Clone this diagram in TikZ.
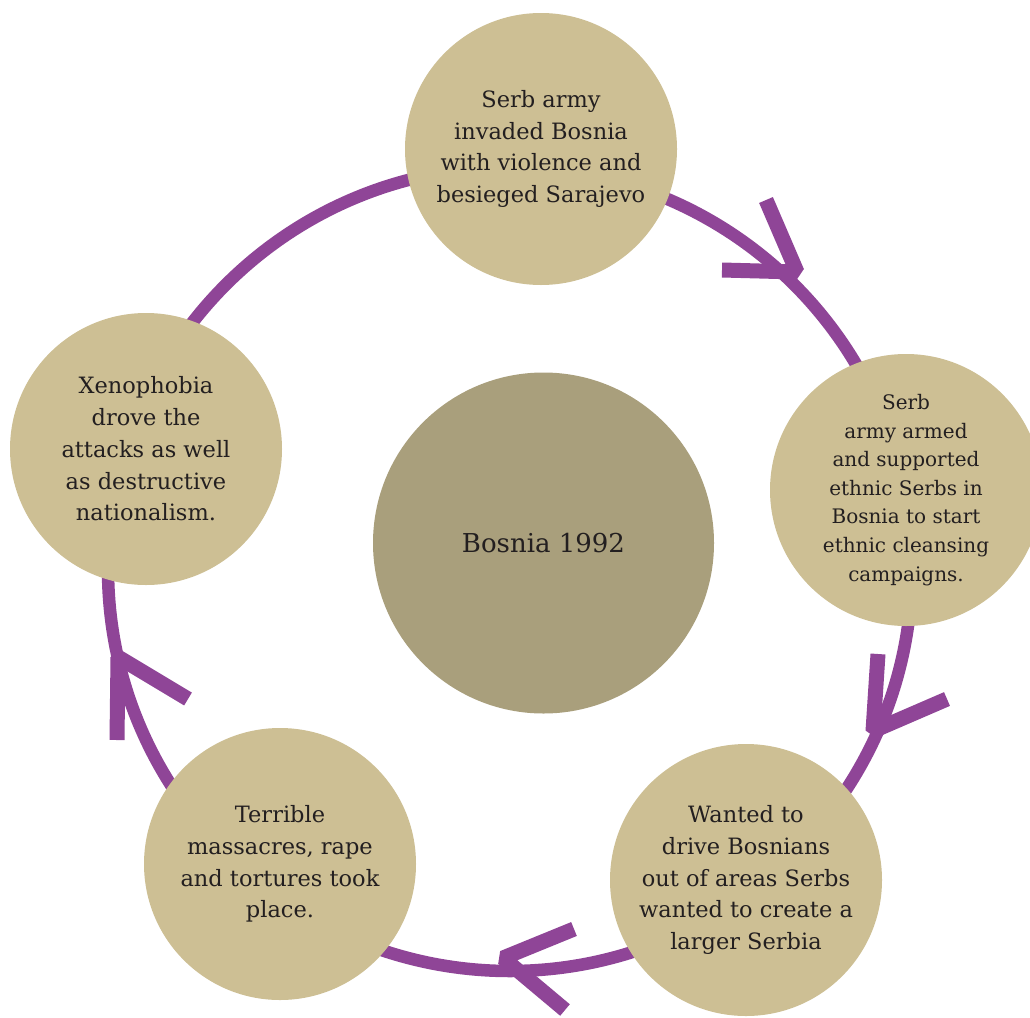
\documentclass[tikz,border=0pt]{standalone}
\usepackage{fontspec}
\setmainfont{DejaVu Serif}
\definecolor{ringpurple}{RGB}{143,69,151}
\definecolor{sand}{RGB}{205,191,148}
\definecolor{hubcol}{RGB}{169,159,124}
\definecolor{ink}{RGB}{35,31,32}
\begin{document}
\begin{tikzpicture}[x=1pt,y=-1pt,
  ringline/.style={draw=ringpurple,line width=12.5pt},
  chevron/.style={draw=ringpurple,line width=15pt,line cap=butt,line join=bevel},
  bubble/.style={circle,fill=sand,minimum size=272pt,inner sep=0pt,text=ink,align=center,
    font={\fontsize{22.5}{31.7}\selectfont}},
  hubnode/.style={circle,fill=hubcol,minimum size=341pt,inner sep=0pt,text=ink,
    font={\fontsize{26}{30}\selectfont}}
]
\useasboundingbox (0,0) rectangle (1030,1017);
% ring
\coordinate (rc) at (510,569);
\draw[ringline] (rc) circle[radius=402];
% arrowheads
\coordinate (a1t) at (797,272); \coordinate (a1u) at (766,200); \coordinate (a1l) at (722,270);
\coordinate (a2t) at (873,731); \coordinate (a2u) at (878,654); \coordinate (a2l) at (947,699);
\coordinate (a3t) at (503,958); \coordinate (a3u) at (574,929); \coordinate (a3l) at (565,1010);
\coordinate (a4t) at (118,657); \coordinate (a4u) at (117,740); \coordinate (a4l) at (188,699);
\draw[chevron] (a1u) -- (a1t) -- (a1l);
\draw[chevron] (a2u) -- (a2t) -- (a2l);
\draw[chevron] (a3u) -- (a3t) -- (a3l);
\draw[chevron] (a4u) -- (a4t) -- (a4l);
% nodes
\node[hubnode] (hub) at (543.5,543) {Bosnia 1992};
\node[bubble] (top) at (541,149) {Serb army\\invaded Bosnia\\with violence and\\besieged Sarajevo};
\node[bubble,font={\fontsize{20}{28.6}\selectfont}] (right) at (906,490)
  {Serb\\army armed\\and supported\\ethnic Serbs in\\Bosnia to start\\ethnic cleansing\\campaigns.};
\node[bubble] (br) at (746,880)
  {Wanted to\\drive Bosnians\\out of areas Serbs\\wanted to create a\\larger Serbia};
\node[bubble] (bl) at (280,864)
  {Terrible\\massacres, rape\\and tortures took\\place.};
\node[bubble] (left) at (146,449)
  {Xenophobia\\drove the\\attacks as well\\as destructive\\nationalism.};
\end{tikzpicture}
\end{document}
